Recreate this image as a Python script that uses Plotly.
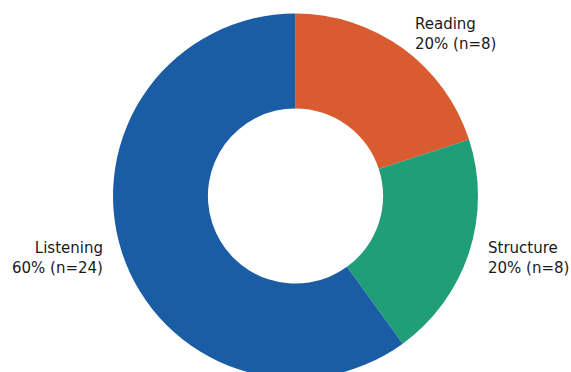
import math
import plotly.graph_objects as go

# Section shares of the test items
sections = ["Reading", "Structure", "Listening"]
counts = [8, 8, 24]
colors = ["#D95B30", "#1F9E77", "#1B5DA5"]

W, H = 571, 386
cx_px, cy_px, r_px = 295.5, 196.0, 182.5

dom_x = [(cx_px - r_px) / W, (cx_px + r_px) / W]
dom_y = [1 - (cy_px + r_px) / H, 1 - (cy_px - r_px) / H]

fig = go.Figure(
    go.Pie(
        labels=sections,
        values=counts,
        marker=dict(colors=colors, line=dict(width=0)),
        hole=0.48,
        sort=False,
        direction="clockwise",
        rotation=0,
        textinfo="none",
        hoverinfo="label+percent",
        showlegend=False,
        domain=dict(x=dom_x, y=dom_y),
    )
)

# Labels placed just outside each wedge, at its mid-angle
total = sum(counts)
cum = 0
for name, n in zip(sections, counts):
    mid = (cum + n / 2) / total
    cum += n
    ang = math.radians(90 - 360 * mid)
    lx = (cx_px + 1.1 * r_px * math.cos(ang)) / W
    ly = 1 - (cy_px - 1.1 * r_px * math.sin(ang)) / H
    right = math.cos(ang) >= 0
    fig.add_annotation(
        x=lx, y=ly, xref="paper", yref="paper",
        text=f"{name}<br>{round(100 * n / total)}% (n={n})",
        showarrow=False,
        xanchor="left" if right else "right",
        yanchor="middle",
        align="left" if right else "right",
        font=dict(family="DejaVu Sans", size=15, color="#1a1a1a"),
    )

fig.update_layout(
    width=W, height=H,
    margin=dict(l=0, r=0, t=0, b=0),
    paper_bgcolor="white",
    plot_bgcolor="white",
)

fig.write_html("out.html")
